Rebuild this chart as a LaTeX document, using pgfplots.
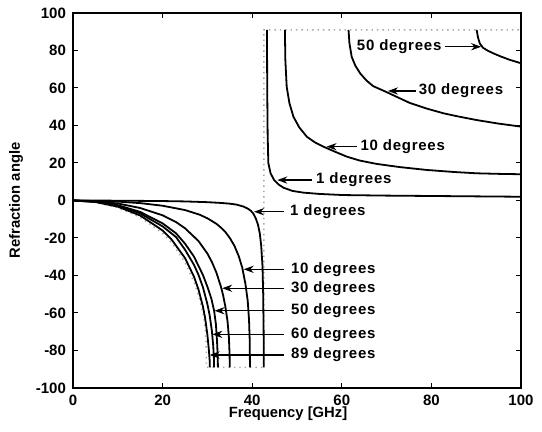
\documentclass[border=0pt]{standalone}
\usepackage{fontspec}
\setmainfont{Liberation Sans}
\newfontfamily\lblfont[LetterSpace=5]{Liberation Sans}
\usepackage{pgfplots}
\pgfplotsset{compat=1.18}
\usetikzlibrary{arrows.meta,calc}

\newcommand\dgfont{\lblfont\bfseries\fontsize{7.5}{9}\selectfont}

\begin{document}
\begin{tikzpicture}[
  arr/.style={-{Stealth[length=5pt,width=3.6pt]},line width=0.7pt},
  dl/.style={anchor=west,inner sep=0pt,font=\dgfont},
  cv/.style={black,solid,mark=none,line width=0.9pt},
]
\begin{axis}[
  width=224pt, height=187.5pt, scale only axis,
  xmin=0, xmax=100, ymin=-100, ymax=100,
  xtick={0,20,40,60,80,100},
  ytick={-100,-80,-60,-40,-20,0,20,40,60,80,100},
  tick align=inside, major tick length=2.5pt,
  axis line style={line width=0.6pt},
  tick style={line width=0.5pt,black},
  /pgf/number format/assume math mode=true,
  ticklabel style={font=\bfseries\fontsize{7.5}{9}\selectfont},
  xlabel={Frequency [GHz]}, ylabel={Refraction angle},
  label style={font=\bfseries\fontsize{7.4}{9}\selectfont},
  xlabel style={at={(axis description cs:0.48,-0.069)},anchor=center},
  ylabel style={at={(axis description cs:-0.127,0.5)},anchor=center},
]
\coordinate (SW) at (rel axis cs:0,0);
\coordinate (NE) at (rel axis cs:1,1);

% grey dotted envelope
\addplot[gray!70,dotted,line width=0.7pt,mark=none] coordinates {
  (0,0) (5,-1) (10,-3.8) (15,-9) (20,-17.5) (22,-22.5) (25,-33) (27,-43.5)
  (28,-50.5) (29,-60) (29.4,-66) (29.7,-75) (29.8,-89)
  (42.6,-89) (42.6,91) (100,91)};

% ---- negative branch ----
% 1 degree
\addplot[cv] coordinates {
  (0,0) (10,-0.1) (20,-0.3) (25,-0.5) (30,-0.9) (33,-1.3) (35,-1.7) (36.5,-2.2)
  (38,-3.2) (39,-4.3) (39.7,-5.5) (40.2,-6.8) (40.8,-9.5) (41.3,-13) (41.7,-17.6)
  (42,-24) (42.3,-35) (42.45,-50) (42.55,-70) (42.6,-89)};
% 10 degrees
\addplot[cv] coordinates {
  (0,0) (10,-0.6) (15,-1.4) (20,-2.8) (25,-5.1) (28.3,-7.6) (30,-9.5) (32,-12.4)
  (33,-14.4) (34,-16.8) (35,-20) (36,-24) (37,-29.7) (37.8,-36) (38.5,-44.7)
  (39,-53.5) (39.3,-64) (39.45,-75) (39.5,-89)};
% 30 degrees
\addplot[cv] coordinates {
  (0,0) (5,-0.4) (10,-1.6) (15,-4) (20,-7.9) (23,-11.5) (25,-14.8) (28,-21.6)
  (30,-28.3) (31,-32.8) (32,-38.4) (33,-45.8) (33.5,-50.5) (34,-56.4) (34.5,-64.5)
  (34.8,-73) (34.95,-82) (35,-89)};
% 50 degrees
\addplot[cv] coordinates {
  (0,0) (5,-0.6) (10,-2.5) (15,-6.1) (20,-12.2) (23,-17.5) (25,-23) (27,-29.9)
  (29,-39.7) (30,-46) (30.9,-52.5) (31.5,-58.8) (31.9,-66) (32.15,-75) (32.3,-83)
  (32.35,-89)};
% 60 degrees
\addplot[cv] coordinates {
  (0,0) (5,-0.7) (10,-2.8) (15,-6.9) (20,-13.8) (23,-19.5) (25,-26.2) (27,-34.3)
  (28,-39.6) (29,-46.2) (30,-55.3) (30.5,-61.2) (31,-69.6) (31.3,-77.4)
  (31.45,-84) (31.5,-89)};
% 89 degrees
\addplot[cv] coordinates {
  (0,0) (5,-0.8) (10,-3.3) (15,-8) (20,-16) (22,-20.8) (25,-30.7) (27,-40.6)
  (28,-47.4) (29,-56.5) (29.5,-62.8) (30,-71.6) (30.3,-79) (30.5,-85) (30.55,-89)};

% ---- positive branch ----
% 1 degree
\addplot[cv] coordinates {
  (43.3,91) (43.35,60) (43.45,35) (43.6,20) (44.1,14.5) (44.9,10.9) (45.9,8.5)
  (47,6.8) (49,5.1) (51.4,4.2) (55,3.5) (60.3,2.9) (70,2.6) (80,2.4) (90,2.2) (100,2.0)};
% 10 degrees
\addplot[cv] coordinates {
  (47.3,91) (47.4,75) (47.7,60.7) (48.3,52) (49.2,44.7) (50.5,39) (52.2,34)
  (54,31) (55.9,28.7) (58.5,26) (61.1,23.4) (64,21.3) (67.8,19.5) (73,17.8)
  (78.9,16.3) (85,15.2) (90.1,14.5) (95,14.2) (100,14)};
% 30 degrees
\addplot[cv] coordinates {
  (61.5,91) (61.7,84) (62.2,76.7) (63,72) (64.1,67.8) (65.5,64) (67,61)
  (70,57.8) (72.5,55) (75.2,52) (79,49) (82.7,46.5) (86,44.8) (90.1,42.9)
  (95,41) (100,39.4)};
% 50 degrees
\addplot[cv] coordinates {
  (90.1,91) (90.4,87) (90.8,83.8) (91.5,81.5) (92.5,80) (93.8,78.5) (95.5,76.8)
  (97.5,75) (100,73.2)};

% ---- annotations ----
\draw[arr] (axis cs:47,-6) -- (axis cs:40.4,-6);
\node[dl] at (axis cs:48.4,-6) {1 degrees};
\draw[arr] (axis cs:47,-36.7) -- (axis cs:38.1,-36.7);
\node[dl] at (axis cs:48.6,-36.7) {10 degrees};
\draw[arr] (axis cs:47,-46.8) -- (axis cs:33.3,-46.8);
\node[dl] at (axis cs:48.6,-46.8) {30 degrees};
\draw[arr] (axis cs:47,-58.8) -- (axis cs:31.6,-58.8);
\node[dl] at (axis cs:48.6,-58.8) {50 degrees};
\draw[arr] (axis cs:47,-71.4) -- (axis cs:31.1,-71.4);
\node[dl] at (axis cs:48.6,-71.4) {60 degrees};
\draw[arr] (axis cs:47,-82.4) -- (axis cs:30.5,-82.4);
\node[dl] at (axis cs:48.6,-82.4) {89 degrees};

\draw[arr] (axis cs:53.3,10.9) -- (axis cs:45.6,10.9);
\node[dl] at (axis cs:54.2,10.9) {1 degrees};
\draw[arr] (axis cs:63.3,28.7) -- (axis cs:56.6,28.7);
\node[dl] at (axis cs:64.1,28.7) {10 degrees};
\draw[arr] (axis cs:76.5,58.4) -- (axis cs:70.3,58.4);
\node[dl] at (axis cs:77.1,58.4) {30 degrees};
\draw[arr] (axis cs:83,82) -- (axis cs:91.1,82);
\node[dl] at (axis cs:63.3,82) {50 degrees};
\end{axis}
\pgfresetboundingbox
\path[use as bounding box] ($(SW)+(-36.5pt,-22pt)$) rectangle ($(NE)+(10.5pt,6.5pt)$);
\end{tikzpicture}
\end{document}
